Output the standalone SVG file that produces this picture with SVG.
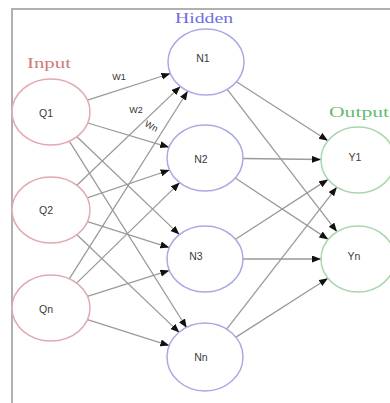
<svg xmlns="http://www.w3.org/2000/svg" width="390" height="403" viewBox="0 0 390 403">
<defs>
<marker id="arr" markerUnits="userSpaceOnUse" markerWidth="10" markerHeight="8" refX="9" refY="3.5" orient="auto">
<path d="M0,0 L9,3.5 L0,7 z" fill="#111"/>
</marker>
<style>
.frame{fill:none;stroke:#b0b0b0;stroke-width:2}
.in{fill:#fff;stroke:#e3a9b0;stroke-width:1.5}
.hid{fill:#fff;stroke:#a9a9e6;stroke-width:1.5}
.out{fill:#fff;stroke:#a9d6ad;stroke-width:1.5}
.lbl{font-family:"Liberation Sans",Arial,sans-serif;font-size:10.5px;fill:#3a3a3a;text-anchor:middle}
.title{font-family:"Liberation Serif","Times New Roman",serif;font-size:15px;text-anchor:middle}
.w{font-family:"Liberation Sans",Arial,sans-serif;font-size:9px;fill:#333;text-anchor:middle}
#edges line{stroke:#9a9a9a;stroke-width:1.3;marker-end:url(#arr)}
</style>
</defs>
<rect width="390" height="403" fill="#fff"/>
<path class="frame" d="M12,403 V9 H390"/>
<text class="title" x="49" y="68" fill="#d27878" textLength="44" lengthAdjust="spacingAndGlyphs">Input</text>
<text class="title" x="204" y="23" fill="#6e6ee0" textLength="58" lengthAdjust="spacingAndGlyphs">Hidden</text>
<text class="title" x="359" y="117" fill="#66bb70" textLength="60" lengthAdjust="spacingAndGlyphs">Output</text>
<g id="edges">
<line x1="87.5" y1="100.2" x2="170.4" y2="73.5"/>
<line x1="87.8" y1="123.0" x2="169.1" y2="147.3"/>
<line x1="76.9" y1="136.7" x2="179.4" y2="234.6"/>
<line x1="69.3" y1="141.1" x2="186.8" y2="328.0"/>
<line x1="76.9" y1="185.3" x2="180.4" y2="86.4"/>
<line x1="87.2" y1="197.8" x2="169.6" y2="170.0"/>
<line x1="87.5" y1="221.6" x2="169.3" y2="247.6"/>
<line x1="76.9" y1="234.7" x2="179.4" y2="332.6"/>
<line x1="69.3" y1="278.9" x2="187.8" y2="91.0"/>
<line x1="76.6" y1="283.1" x2="179.7" y2="182.6"/>
<line x1="87.5" y1="296.4" x2="169.3" y2="270.4"/>
<line x1="87.5" y1="319.6" x2="169.3" y2="345.6"/>
<line x1="236.5" y1="81.7" x2="328.0" y2="140.7"/>
<line x1="227.2" y1="89.4" x2="337.0" y2="231.8"/>
<line x1="243.0" y1="158.5" x2="321.0" y2="159.5"/>
<line x1="235.2" y1="178.0" x2="328.3" y2="239.4"/>
<line x1="235.5" y1="239.3" x2="328.1" y2="179.4"/>
<line x1="243.0" y1="259" x2="321.0" y2="259"/>
<line x1="226.3" y1="329.6" x2="336.9" y2="187.1"/>
<line x1="235.6" y1="337.4" x2="328.0" y2="278.2"/>
<text class="w" x="119" y="80">W1</text>
<text class="w" x="136" y="113">W2</text>
<text class="w" transform="translate(150,129) rotate(28)" x="0" y="0">Wn</text>
</g>
<g id="Q1"><ellipse class="in" cx="51" cy="112" rx="39" ry="33"/><text class="lbl" x="46" y="117">Q1</text></g>
<g id="Q2"><ellipse class="in" cx="51" cy="210" rx="39" ry="33"/><text class="lbl" x="46" y="214">Q2</text></g>
<g id="Qn"><ellipse class="in" cx="51" cy="308" rx="39" ry="33"/><text class="lbl" x="46" y="313">Qn</text></g>
<g id="N1"><ellipse class="hid" cx="206" cy="62" rx="38" ry="33"/><text class="lbl" x="203" y="62">N1</text></g>
<g id="N2"><ellipse class="hid" cx="205" cy="158" rx="38" ry="33"/><text class="lbl" x="201" y="163">N2</text></g>
<g id="N3"><ellipse class="hid" cx="205" cy="259" rx="38" ry="33"/><text class="lbl" x="196" y="260">N3</text></g>
<g id="Nn"><ellipse class="hid" cx="205" cy="357" rx="38" ry="34"/><text class="lbl" x="201" y="361">Nn</text></g>
<g id="Y1"><ellipse class="out" cx="358" cy="160" rx="37" ry="33"/><text class="lbl" x="355" y="161">Y1</text></g>
<g id="Yn"><ellipse class="out" cx="358" cy="259" rx="37" ry="33"/><text class="lbl" x="354" y="260">Yn</text></g>
</svg>
